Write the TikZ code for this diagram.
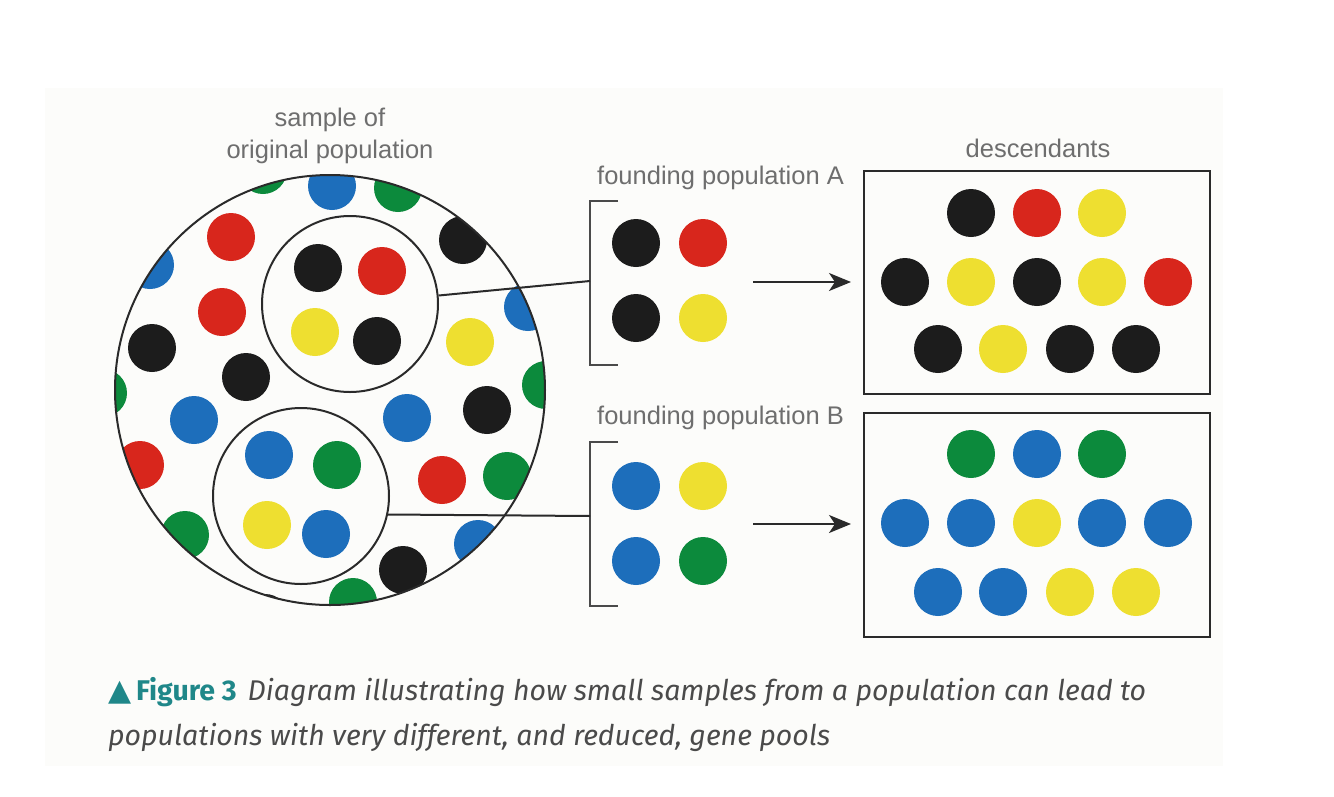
\documentclass[tikz,border=0pt]{standalone}
\usepackage{fontspec}
\setmainfont{Liberation Sans}
\newfontfamily\capfont{Fira Sans}
\newfontfamily\symfont{DejaVu Sans}
\usetikzlibrary{arrows.meta}
\definecolor{dotblack}{HTML}{1C1C1C}
\definecolor{dotred}{HTML}{D8261C}
\definecolor{dotyellow}{HTML}{EEDF30}
\definecolor{dotblue}{HTML}{1D6EBB}
\definecolor{dotgreen}{HTML}{0C8A3C}
\definecolor{linegray}{HTML}{2A2A2A}
\definecolor{labelgray}{HTML}{6E6E6E}
\definecolor{capgray}{HTML}{4A4A4A}
\definecolor{figteal}{HTML}{1F8789}
\definecolor{bgtint}{HTML}{FCFCFA}
\begin{document}
\begin{tikzpicture}[x=1pt,y=-1pt,
  dot/.style={circle,inner sep=0pt,minimum size=48pt},
  bk/.style={dot,fill=dotblack},
  rd/.style={dot,fill=dotred},
  ye/.style={dot,fill=dotyellow},
  bl/.style={dot,fill=dotblue},
  gr/.style={dot,fill=dotgreen},
  ring/.style={circle,draw=linegray,line width=2pt,inner sep=0pt},
  boxnode/.style={draw=linegray,line width=2.2pt,inner sep=0pt},
  lbl/.style={text=labelgray,font=\fontsize{25.5}{32}\selectfont,align=center,inner sep=0pt},
  conn/.style={draw=linegray,line width=2pt},
  brk/.style={draw=linegray!85,line width=2.4pt},
  arr/.style={draw=linegray,line width=2.2pt,-{Stealth[length=22pt,width=18pt,inset=6pt]}},
  capstyle/.style={anchor=base west,inner sep=0pt,font=\capfont\fontsize{28.5}{32}\selectfont}
]
\useasboundingbox (0,0) rectangle (1334,796);
\fill[white] (0,0) rectangle (1334,796);
\fill[bgtint] (45,88) rectangle (1223,766);

% ---------- big sample circle ----------
\begin{scope}
  \clip (330,390) circle (215pt);
  \node[gr] (p1) at (263,170) {};
  \node[bl] (p2) at (332,186) {};
  \node[gr] (p3) at (398,188) {};
  \node[rd] (p4) at (231,237) {};
  \node[bk] (p5) at (463,240) {};
  \node[bl] (p6) at (150,265) {};
  \node[rd] (p7) at (222,312) {};
  \node[bl] (p8) at (528,307) {};
  \node[ye] (p9) at (470,342) {};
  \node[bk] (p10) at (152,348) {};
  \node[bk] (p11) at (246,377) {};
  \node[gr] (p12) at (103,393) {};
  \node[gr] (p13) at (546,385) {};
  \node[bl] (p14) at (194,420) {};
  \node[bl] (p15) at (407,418) {};
  \node[bk] (p16) at (487,410) {};
  \node[rd] (p17) at (140,465) {};
  \node[rd] (p18) at (442,480) {};
  \node[gr] (p19) at (507,476) {};
  \node[gr] (p20) at (185,535) {};
  \node[bl] (p21) at (478,544) {};
  \node[bk] (p22) at (403,570) {};
  \node[gr] (p23) at (353,602) {};
  \node[bk] (p24) at (265,618) {};
  % sample A
  \node[bk] (a1) at (318,268) {};
  \node[rd] (a2) at (382,271) {};
  \node[ye] (a3) at (315,332) {};
  \node[bk] (a4) at (377,341) {};
  % sample B
  \node[bl] (b1) at (269,455) {};
  \node[gr] (b2) at (337,465) {};
  \node[ye] (b3) at (267,525) {};
  \node[bl] (b4) at (326,534) {};
\end{scope}
\node[ring,minimum size=430pt] (big) at (330,390) {};
\node[ring,minimum size=176pt] (cA) at (350,304) {};
\node[ring,minimum size=176pt] (cB) at (301,496) {};

\node[lbl] (lsample) at (330,136) {sample of\\original population};

% ---------- founding populations ----------
\coordinate (brA) at (590,281);
\coordinate (brB) at (590,516);
\draw[brk] (618,201) -| (590,365) -- (618,365);
\draw[brk] (618,442) -| (590,606) -- (618,606);
\draw[conn] (cA) -- (brA);
\draw[conn] (cB.-12.5) -- (brB);

\node[lbl,anchor=west] (lA) at (597,178) {founding population A};
\node[lbl,anchor=west] (lB) at (597,418) {founding population B};

\node[bk] (fa1) at (636,243) {};
\node[rd] (fa2) at (703,243) {};
\node[bk] (fa3) at (636,318) {};
\node[ye] (fa4) at (703,318) {};

\node[bl] (fb1) at (636,486) {};
\node[ye] (fb2) at (703,486) {};
\node[bl] (fb3) at (636,561) {};
\node[gr] (fb4) at (703,561) {};

% ---------- arrows ----------
\coordinate (arA1) at (753,282);
\coordinate (arA2) at (851,282);
\coordinate (arB1) at (753,524);
\coordinate (arB2) at (851,524);
\draw[arr] (arA1) -- (arA2);
\draw[arr] (arB1) -- (arB2);

% ---------- descendants ----------
\node[boxnode,minimum width=346pt,minimum height=223pt] (boxA) at (1037,282.5) {};
\node[boxnode,minimum width=346pt,minimum height=224pt] (boxB) at (1037,525) {};
\node[lbl] (ldesc) at (1038,148) {descendants};

\node[bk] (da1) at (971,213) {};
\node[rd] (da2) at (1037,213) {};
\node[ye] (da3) at (1102,213) {};
\node[bk] (da4) at (905,282) {};
\node[ye] (da5) at (971,282) {};
\node[bk] (da6) at (1037,282) {};
\node[ye] (da7) at (1102,282) {};
\node[rd] (da8) at (1168,282) {};
\node[bk] (da9) at (938,349) {};
\node[ye] (da10) at (1003,349) {};
\node[bk] (da11) at (1070,349) {};
\node[bk] (da12) at (1136,349) {};

\node[gr] (db1) at (971,454) {};
\node[bl] (db2) at (1037,454) {};
\node[gr] (db3) at (1102,454) {};
\node[bl] (db4) at (905,523) {};
\node[bl] (db5) at (971,523) {};
\node[ye] (db6) at (1037,523) {};
\node[bl] (db7) at (1102,523) {};
\node[bl] (db8) at (1168,523) {};
\node[bl] (db9) at (938,592) {};
\node[bl] (db10) at (1003,592) {};
\node[ye] (db11) at (1070,592) {};
\node[ye] (db12) at (1136,592) {};

% ---------- caption ----------
\node[capstyle] (cap1) at (108,700)
  {{\symfont\fontsize{30}{32}\selectfont\color{figteal}▲}\,{\bfseries\color{figteal}Figure 3}\hspace{11pt}{\itshape\color{capgray}Diagram illustrating how small samples from a population can lead to}};
\node[capstyle,text=capgray] (cap2) at (108,745)
  {\itshape populations with very different, and reduced, gene pools};
\end{tikzpicture}
\end{document}
